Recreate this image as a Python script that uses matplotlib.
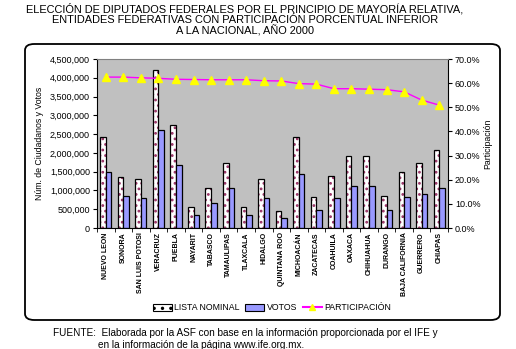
import numpy as np
import matplotlib.pyplot as plt
from matplotlib.patches import FancyBboxPatch
from matplotlib.lines import Line2D
from matplotlib.patches import Patch

plt.rcParams['font.family'] = ['Liberation Sans', 'DejaVu Sans']
plt.rcParams['hatch.linewidth'] = 1.2

estados = ['NUEVO LEON', 'SONORA', 'SAN LUIS POTOSI', 'VERACRUZ', 'PUEBLA', 'NAYARIT',
           'TABASCO', 'TAMAULIPAS', 'TLAXCALA', 'HIDALGO', 'QUINTANA ROO', 'MICHOACÁN',
           'ZACATECAS', 'COAHUILA', 'OAXACA', 'CHIHUAHUA', 'DURANGO', 'BAJA CALIFORNIA',
           'GUERRERO', 'CHIAPAS']
lista_nominal = [2410000, 1360000, 1310000, 4220000, 2750000, 560000, 1070000, 1740000,
                 560000, 1310000, 450000, 2410000, 830000, 1390000, 1930000, 1930000,
                 860000, 1500000, 1740000, 2090000]
votos = [1500000, 860000, 800000, 2620000, 1680000, 350000, 670000, 1070000, 350000,
         800000, 270000, 1440000, 480000, 800000, 1120000, 1120000, 480000, 830000,
         910000, 1070000]
participacion = [62.5, 62.5, 62.2, 62.0, 61.6, 61.5, 61.4, 61.4, 61.4, 61.0, 60.9,
                 59.8, 59.6, 57.7, 57.7, 57.5, 57.3, 56.4, 53.0, 50.9]

fig = plt.figure(figsize=(5.16, 3.49), dpi=100)
W, H = 516, 349

# marco exterior
frame = FancyBboxPatch((25 / W, 1 - 320 / H), 475 / W, 276 / H,
                       boxstyle='round,pad=0,rounding_size=0.018',
                       transform=fig.transFigure, fill=False, lw=1.3, ec='black')
fig.patches.append(frame)

ax = fig.add_axes([97 / W, 1 - 228 / H, 351 / W, 169 / H])
ax.set_facecolor('#C0C0C0')
n = len(estados)
x = np.arange(n)
w = 0.32
ax.bar(x - w / 2, lista_nominal, w, color='white', edgecolor='#993366', hatch='...', lw=0)
ax.bar(x - w / 2, lista_nominal, w, fill=False, edgecolor='black', lw=0.9)
ax.bar(x + w / 2, votos, w, color='#9999FF', edgecolor='black', lw=0.9)
ax.set_xlim(-0.5, n - 0.5)
ax.set_ylim(0, 4500000)
ax.set_yticks(np.arange(0, 4500001, 500000))
ax.set_yticklabels([f'{v:,}' for v in range(0, 4500001, 500000)], fontsize=6.5)
ax.set_xticks(x)
ax.set_xticklabels(estados, rotation=90, fontsize=5, fontweight='bold')
ax.set_xticks(np.arange(-0.5, n, 1), minor=True)
ax.tick_params(axis='x', which='major', length=0, pad=3)
ax.tick_params(axis='x', which='minor', length=3)
ax.tick_params(axis='y', length=3, pad=2)
ax.set_ylabel('Núm. de Ciudadanos y Votos', fontsize=6.3, labelpad=4)
for s in ['top', 'right']:
    ax.spines[s].set_visible(False)

ax2 = ax.twinx()
ax2.plot(x, participacion, color='#FF00FF', lw=1, marker='^', ms=5.5,
         mfc='#FFFF00', mec='#FFFF00')
ax2.set_ylim(0, 70)
ax2.set_yticks(np.arange(0, 71, 10))
ax2.set_yticklabels([f'{v:.1f}%' for v in range(0, 71, 10)], fontsize=6.5)
ax2.tick_params(axis='y', length=3, pad=2)
ax2.set_ylabel('Participación', fontsize=6.3, labelpad=2)
ax2.spines['top'].set_color('#808080')
ax2.spines['left'].set_visible(False)
ax2.spines['bottom'].set_visible(False)

handles = [Patch(facecolor='white', edgecolor='black', hatch='..', lw=0.8),
           Patch(facecolor='#9999FF', edgecolor='black', lw=0.8),
           Line2D([], [], color='#FF00FF', marker='^', mfc='#FFFF00', mec='#FFFF00', ms=5)]
fig.legend(handles, ['LISTA NOMINAL', 'VOTOS', 'PARTICIPACIÓN'], loc='center',
           bbox_to_anchor=(272 / W, 1 - 308 / H), ncol=3, frameon=False, fontsize=6.3,
           handlelength=2.2, handletextpad=0.3, columnspacing=0.6)

fig.text(245 / W, 1 - 20 / H,
         'ELECCIÓN DE DIPUTADOS FEDERALES POR EL PRINCIPIO DE MAYORÍA RELATIVA,\n'
         'ENTIDADES FEDERATIVAS CON PARTICIPACIÓN PORCENTUAL INFERIOR\n'
         'A LA NACIONAL, AÑO 2000', ha='center', va='center', fontsize=7.9,
         linespacing=1.05)
fig.text(53 / W, 1 - 333 / H, 'FUENTE:  Elaborada por la ASF con base en la información '
         'proporcionada por el IFE y', ha='left', va='center', fontsize=7.2)
fig.text(98 / W, 1 - 345 / H, 'en la información de la página www.ife.org.mx.',
         ha='left', va='center', fontsize=7.2)

fig.savefig('out.png', dpi=100)
